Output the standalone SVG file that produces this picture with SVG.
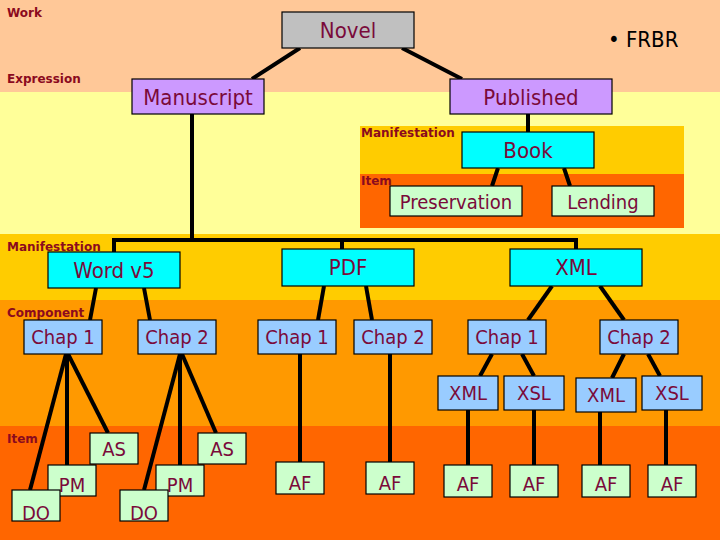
<svg xmlns="http://www.w3.org/2000/svg" width="720" height="540" viewBox="0 0 720 540">
<style>
.n{stroke:#000;stroke-width:1.2}
.t{font-family:"DejaVu Sans Condensed","DejaVu Sans",sans-serif;fill:#7a0a3a;text-anchor:middle}
.l{font-family:"DejaVu Sans","Liberation Sans",sans-serif;font-weight:bold;font-size:12px;fill:#8b0a1e}
.c line{stroke:#000;stroke-width:4}
</style>
<rect x="0" y="0" width="720" height="92" fill="#FFC898"/>
<rect x="0" y="92" width="720" height="142" fill="#FFFF99"/>
<rect x="0" y="234" width="720" height="66" fill="#FFCC00"/>
<rect x="0" y="300" width="720" height="126" fill="#FF9900"/>
<rect x="0" y="426" width="720" height="114" fill="#FF6600"/>
<rect x="360" y="126" width="324" height="48" fill="#FFCC00"/>
<rect x="360" y="174" width="324" height="54" fill="#FF6600"/>
<text class="l" x="7" y="17">Work</text>
<text class="l" x="7" y="83">Expression</text>
<text class="l" x="361" y="137">Manifestation</text>
<text class="l" x="361" y="185">Item</text>
<text class="l" x="7" y="251">Manifestation</text>
<text class="l" x="7" y="317">Component</text>
<text class="l" x="7" y="443">Item</text>
<text x="608" y="47" font-family="DejaVu Sans Condensed,sans-serif" font-size="22" fill="#000">• FRBR</text>
<g class="c">
<line x1="300" y1="48" x2="252" y2="79"/><line x1="402" y1="48" x2="462" y2="79"/>
<line x1="528" y1="114" x2="528" y2="132"/>
<line x1="498" y1="168" x2="492" y2="186"/><line x1="564" y1="168" x2="570" y2="186"/>
<line x1="192" y1="114" x2="192" y2="242"/>
<line x1="112" y1="240" x2="578" y2="240"/>
<line x1="114" y1="240" x2="114" y2="252"/><line x1="342" y1="240" x2="342" y2="249"/><line x1="576" y1="240" x2="576" y2="249"/>
<line x1="96" y1="288" x2="90" y2="320"/><line x1="144" y1="288" x2="150" y2="320"/>
<line x1="324" y1="286" x2="318" y2="320"/><line x1="366" y1="286" x2="372" y2="320"/>
<line x1="552" y1="286" x2="528" y2="320"/><line x1="600" y1="286" x2="624" y2="320"/>
<line x1="66" y1="354" x2="30" y2="490"/><line x1="67" y1="354" x2="67" y2="465"/><line x1="68" y1="354" x2="108" y2="433"/>
<line x1="180" y1="354" x2="144" y2="490"/><line x1="180" y1="354" x2="180" y2="465"/><line x1="182" y1="354" x2="216" y2="433"/>
<line x1="300" y1="354" x2="300" y2="462"/><line x1="390" y1="354" x2="390" y2="462"/>
<line x1="492" y1="354" x2="480" y2="376"/><line x1="522" y1="354" x2="534" y2="376"/>
<line x1="624" y1="354" x2="612" y2="378"/><line x1="648" y1="354" x2="660" y2="376"/>
<line x1="468" y1="410" x2="468" y2="465"/><line x1="534" y1="410" x2="534" y2="465"/>
<line x1="600" y1="412" x2="600" y2="465"/><line x1="666" y1="410" x2="666" y2="465"/>
</g>
<g id="novel"><rect class="n" x="282" y="12" width="132" height="36" fill="#C0C0C0"/><text class="t" x="348" y="38" font-size="22">Novel</text></g>
<g id="manuscript"><rect class="n" x="132" y="79" width="132" height="35" fill="#CC99FF"/><text class="t" x="198" y="105" font-size="22">Manuscript</text></g>
<g id="published"><rect class="n" x="450" y="79" width="162" height="35" fill="#CC99FF"/><text class="t" x="531" y="105" font-size="22">Published</text></g>
<g id="book"><rect class="n" x="462" y="132" width="132" height="36" fill="#00FFFF"/><text class="t" x="528" y="158" font-size="22">Book</text></g>
<g id="preservation"><rect class="n" x="390" y="186" width="132" height="30" fill="#CCFFCC"/><text class="t" x="456" y="209" font-size="20">Preservation</text></g>
<g id="lending"><rect class="n" x="552" y="186" width="102" height="30" fill="#CCFFCC"/><text class="t" x="603" y="209" font-size="20">Lending</text></g>
<g id="wordv5"><rect class="n" x="48" y="252" width="132" height="36" fill="#00FFFF"/><text class="t" x="114" y="278" font-size="22">Word v5</text></g>
<g id="pdf"><rect class="n" x="282" y="249" width="132" height="37" fill="#00FFFF"/><text class="t" x="348" y="275" font-size="22">PDF</text></g>
<g id="xml"><rect class="n" x="510" y="249" width="132" height="37" fill="#00FFFF"/><text class="t" x="576" y="275" font-size="22">XML</text></g>
<g id="c1a"><rect class="n" x="24" y="320" width="78" height="34" fill="#99CCFF"/><text class="t" x="63" y="344" font-size="20">Chap 1</text></g>
<g id="c2a"><rect class="n" x="138" y="320" width="78" height="34" fill="#99CCFF"/><text class="t" x="177" y="344" font-size="20">Chap 2</text></g>
<g id="c1b"><rect class="n" x="258" y="320" width="78" height="34" fill="#99CCFF"/><text class="t" x="297" y="344" font-size="20">Chap 1</text></g>
<g id="c2b"><rect class="n" x="354" y="320" width="78" height="34" fill="#99CCFF"/><text class="t" x="393" y="344" font-size="20">Chap 2</text></g>
<g id="c1c"><rect class="n" x="468" y="320" width="78" height="34" fill="#99CCFF"/><text class="t" x="507" y="344" font-size="20">Chap 1</text></g>
<g id="c2c"><rect class="n" x="600" y="320" width="78" height="34" fill="#99CCFF"/><text class="t" x="639" y="344" font-size="20">Chap 2</text></g>
<g id="xml1"><rect class="n" x="438" y="376" width="60" height="34" fill="#99CCFF"/><text class="t" x="468" y="400" font-size="20">XML</text></g>
<g id="xsl1"><rect class="n" x="504" y="376" width="60" height="34" fill="#99CCFF"/><text class="t" x="534" y="400" font-size="20">XSL</text></g>
<g id="xml2"><rect class="n" x="576" y="378" width="60" height="34" fill="#99CCFF"/><text class="t" x="606" y="402" font-size="20">XML</text></g>
<g id="xsl2"><rect class="n" x="642" y="376" width="60" height="34" fill="#99CCFF"/><text class="t" x="672" y="400" font-size="20">XSL</text></g>
<g id="as1"><rect class="n" x="90" y="433" width="48" height="31" fill="#CCFFCC"/><text class="t" x="114" y="456" font-size="20">AS</text></g>
<g id="pm1"><rect class="n" x="48" y="465" width="48" height="31" fill="#CCFFCC"/><text class="t" x="72" y="492" font-size="20">PM</text></g>
<g id="do1"><rect class="n" x="12" y="490" width="48" height="31" fill="#CCFFCC"/><text class="t" x="36" y="520" font-size="20">DO</text></g>
<g id="as2"><rect class="n" x="198" y="433" width="48" height="31" fill="#CCFFCC"/><text class="t" x="222" y="456" font-size="20">AS</text></g>
<g id="pm2"><rect class="n" x="156" y="465" width="48" height="31" fill="#CCFFCC"/><text class="t" x="180" y="492" font-size="20">PM</text></g>
<g id="do2"><rect class="n" x="120" y="490" width="48" height="31" fill="#CCFFCC"/><text class="t" x="144" y="520" font-size="20">DO</text></g>
<g id="af1"><rect class="n" x="276" y="462" width="48" height="32" fill="#CCFFCC"/><text class="t" x="300" y="490" font-size="20">AF</text></g>
<g id="af2"><rect class="n" x="366" y="462" width="48" height="32" fill="#CCFFCC"/><text class="t" x="390" y="490" font-size="20">AF</text></g>
<g id="af3"><rect class="n" x="444" y="465" width="48" height="32" fill="#CCFFCC"/><text class="t" x="468" y="491" font-size="20">AF</text></g>
<g id="af4"><rect class="n" x="510" y="465" width="48" height="32" fill="#CCFFCC"/><text class="t" x="534" y="491" font-size="20">AF</text></g>
<g id="af5"><rect class="n" x="582" y="465" width="48" height="32" fill="#CCFFCC"/><text class="t" x="606" y="491" font-size="20">AF</text></g>
<g id="af6"><rect class="n" x="648" y="465" width="48" height="32" fill="#CCFFCC"/><text class="t" x="672" y="491" font-size="20">AF</text></g>
</svg>
